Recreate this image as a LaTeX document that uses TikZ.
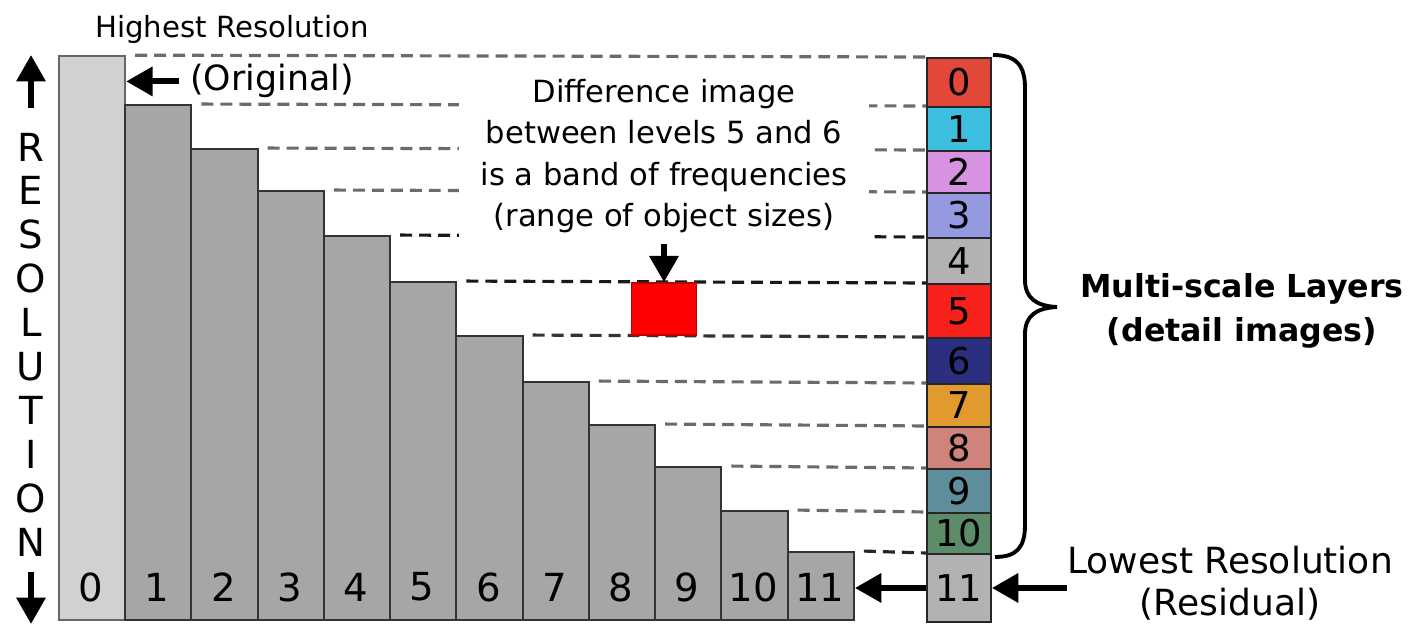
\documentclass[tikz,border=0pt]{standalone}
\usepackage{fontspec}
\setmainfont{DejaVu Sans}
\usetikzlibrary{arrows.meta,calc}

\definecolor{lay0}{HTML}{E2483A}
\definecolor{lay1}{HTML}{3CBFDF}
\definecolor{lay2}{HTML}{D892E2}
\definecolor{lay3}{HTML}{9499E0}
\definecolor{lay4}{HTML}{B2B2B2}
\definecolor{lay5}{HTML}{F8201A}
\definecolor{lay6}{HTML}{2A2F80}
\definecolor{lay7}{HTML}{E09A2E}
\definecolor{lay8}{HTML}{D0837A}
\definecolor{lay9}{HTML}{5E8E9C}
\definecolor{lay10}{HTML}{5C8C68}
\definecolor{lay11}{HTML}{B2B2B2}

\begin{document}
\begin{tikzpicture}[x=0.02cm, y=0.02cm,
    bar/.style={draw=black!80, line width=1.1pt, fill=black!35, inner sep=0pt, minimum width=1.325cm, anchor=south west},
    layer/.style={draw=black!85, line width=1.1pt, inner sep=0pt, minimum width=1.28cm, anchor=north west, font=\fontsize{21}{21}\selectfont},
    num/.style={inner sep=0pt, font=\fontsize{22}{22}\selectfont},
    guide/.style={line width=1.8pt, dash pattern=on 6.8pt off 4pt},
    big/.style={-{Triangle[length=15pt, width=16pt]}, line width=3.4pt},
    note/.style={fill=white, align=center, inner sep=0pt, font=\fontsize{17.4}{23.5}\selectfont}
]
\useasboundingbox (0,0) rectangle (1414,626);

\node[bar, fill=black!18, draw=black!60, minimum height=11.28cm] (b0) at (58,5) {};
\foreach \k/\t in {1/520,2/476,3/434,4/389,5/343,6/289,7/243,8/200,9/158,10/114,11/73}
  \node[bar, minimum height={(\t-5)*0.02cm}] (b\k) at ({58+66.25*\k},5) {};
\foreach \k in {0,...,11}
  \node[num] (n\k) at ({91+66.25*\k},39) {\k};

\foreach \k/\t/\b in {0/569/520,1/520/476,2/476/434,3/434/389,4/389/343,5/343/289,6/289/243,7/243/200,8/200/158,9/158/114,10/114/73,11/73/5}
  \node[layer, fill=lay\k, minimum height={(\t-\b)*0.02cm}] (c\k) at (926,\t) {\k};

\foreach \k/\g in {0/58,1/58,2/58,3/58,4/90,5/90,6/80,7/58,8/58,9/58,10/58,11/85}
  \draw[guide, black!\g] ([xshift=0.18cm]b\k.north east) -- (c\k.north west);

\node[note, minimum width=8.2cm, minimum height=3.5cm] (diff) at (664,470) {Difference image\\between levels 5 and 6\\is a band of frequencies\\(range of object sizes)};
\node[draw=red!75!black, fill=red, line width=0.8pt, minimum width=1.3cm, minimum height=1.04cm, inner sep=0pt] (band) at (664,317) {};
\draw[big] (diff.south) -- (band.north);

\node[anchor=base, inner sep=0pt, font=\fontsize{16.6}{19}\selectfont] (hi) at (232,588) {Highest Resolution};
\node[anchor=base west, inner sep=0pt, font=\fontsize{19.8}{22}\selectfont] (orig) at (190,535) {(Original)};
\draw[big, shorten <=0.22cm] (orig.west) -- (orig.west -| b0.east);

\foreach \l [count=\k] in {R,E,S,O,L,U,T,I,O,N}
  \node[num] (ax\k) at (31,{479-43.9*(\k-1)}) {\l};
\coordinate (uptip) at (31,571);
\coordinate (dntip) at (31,2);
\draw[big, shorten <=0.5cm] (ax1.north) -- (uptip);
\draw[big, shorten <=0.3cm] (ax10.south) -- (dntip);

\draw[big] (c11.west) -- (c11.west -| b11.east);
\node[align=center, inner sep=0pt, font=\fontsize{20.5}{24}\selectfont] (lo) at (1230,43) {Lowest Resolution\\(Residual)};
\draw[big] (lo.west |- c11.east) -- (c11.east);

\draw[line width=2.2pt] (993,571) .. controls (1017,571) and (1025,560) .. (1025,538) -- (1025,346) .. controls (1025,328) and (1036,320) .. (1057,319) .. controls (1036,318) and (1025,310) .. (1025,292) -- (1025,101) .. controls (1025,79) and (1017,69) .. (995,69);
\node[align=center, inner sep=0pt, font=\bfseries\fontsize{18}{25}\selectfont] (multi) at (1242,315) {Multi-scale Layers\\(detail images)};
\end{tikzpicture}
\end{document}
